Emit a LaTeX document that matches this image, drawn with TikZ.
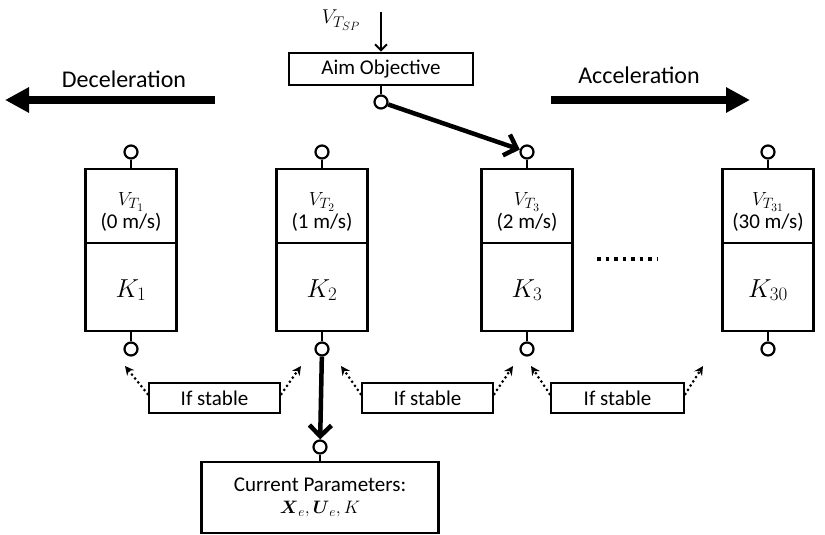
\RequirePackage{fix-cm}
\documentclass[tikz,border=0pt]{standalone}
\usepackage{amsmath}
\usepackage{fontspec}
\setmainfont{Carlito}
\DeclareMathSizes{18}{18}{13.5}{10.5}
\DeclareMathSizes{19}{19}{15}{11.5}
\DeclareMathSizes{20}{20}{15.5}{12}
\DeclareMathSizes{26}{26}{19}{14}
\usetikzlibrary{arrows.meta}
\begin{document}
\begin{tikzpicture}[x=1pt,y=-1pt,
  every node/.style={font=\fontsize{21}{23}\selectfont},
  half/.style={draw, line width=2.6pt, minimum width=91pt, inner sep=0pt, align=center},
  vpart/.style={half, minimum height=74pt},
  kpart/.style={half, minimum height=88pt, font=\fontsize{26}{30}\selectfont},
  port/.style={circle, draw, line width=2.2pt, minimum size=13pt, inner sep=0pt, fill=white},
  stem/.style={line width=2pt},
  bigarrow/.style={line width=4.5pt, -{Straight Barb[length=11pt,width=22pt]}},
  fatarrow/.style={line width=8pt, -{Triangle[length=24pt,width=24pt]}},
  dotarrow/.style={line width=3pt, line cap=round, dash pattern=on 0pt off 5pt, -{Stealth[length=9pt,width=9pt,line cap=butt]}},
  plainbox/.style={draw, line width=2.6pt, inner sep=0pt}
]
\useasboundingbox (0,0) rectangle (825,535);
\fill[white] (0,0) rectangle (825,535);

% Aim objective
\node[plainbox, minimum width=184pt, minimum height=32pt] (aim) at (381,69) {Aim Objective};
\node[font=\fontsize{20}{22}\selectfont] (vsp) at (341,20) {$V_{T_{SP}}$};
\coordinate (vspin) at (381,12);
\draw[line width=2pt, -{Straight Barb[length=6pt,width=12pt]}] (vspin) -- (aim.north);
\node[port] (aimp) at (381,102) {};
\draw[stem] (aim.south) -- (aimp);

% Direction arrows
\coordinate (decs) at (215,100); \coordinate (dece) at (5,100);
\coordinate (accs) at (551,100); \coordinate (acce) at (750,100);
\draw[fatarrow] (decs) -- (dece);
\draw[fatarrow] (accs) -- (acce);
\node[font=\fontsize{24}{26}\selectfont] (dec) at (124,79) {Deceleration};
\node[font=\fontsize{24}{26}\selectfont] (acc) at (639,75) {Acceleration};

% Boxes
\foreach \i/\x/\sub/\spd/\k in {1/131/1/0/1, 2/322/2/1/2, 3/527/3/2/3, 4/768/{31}/30/{30}}{
  \node[vpart] (v\i) at (\x,206) {\rule{0pt}{24pt}{\fontsize{19}{21}\selectfont$V_{T_{\sub}}$}\\[0pt](\spd{} m/s)};
  \node[kpart] (k\i) at (\x,287) {\rule{0pt}{24pt}$K_{\k}$};
  \node[port] (t\i) at (\x,152) {};
  \node[port] (b\i) at (\x,349) {};
  \draw[stem] (t\i) -- (v\i.north);
  \draw[stem] (k\i.south) -- (b\i);
}

% ellipsis
\coordinate (e1) at (597,259); \coordinate (e2) at (658,259);
\draw[line width=3.5pt, dash pattern=on 3.5pt off 5pt] (e1) -- (e2);

% aim -> K3
\draw[bigarrow] (aimp) -- (t3);

% If stable boxes
\node[plainbox, minimum width=131pt, minimum height=30pt] (s1) at (214.5,398) {If stable};
\node[plainbox, minimum width=131pt, minimum height=30pt] (s2) at (427.5,398) {If stable};
\node[plainbox, minimum width=133pt, minimum height=30pt] (s3) at (617.5,398) {If stable};
\coordinate (a1) at (125,366); \coordinate (a2) at (301,366);
\coordinate (c1) at (341,366); \coordinate (c2) at (513,366);
\coordinate (d1) at (531,366); \coordinate (d2) at (703,366);
\draw[dotarrow] ([yshift=4pt]s1.west) -- (a1);
\draw[dotarrow] ([yshift=4pt]s1.east) -- (a2);
\draw[dotarrow] ([yshift=4pt]s2.west) -- (c1);
\draw[dotarrow] ([yshift=4pt]s2.east) -- (c2);
\draw[dotarrow] ([yshift=4pt]s3.west) -- (d1);
\draw[dotarrow] ([yshift=4pt]s3.east) -- (d2);

% Current parameters
\node[plainbox, minimum width=237pt, minimum height=71pt, align=center] (cp) at (320,497.5)
  {Current Parameters:\\[-1pt] {\fontsize{18}{20}\selectfont$\boldsymbol{X}_e, \boldsymbol{U}_e, K$}};
\node[port] (cpp) at (320,447) {};
\draw[stem] (cpp) -- (cp.north);
\draw[bigarrow] (b2) -- (cpp);
\end{tikzpicture}
\end{document}
